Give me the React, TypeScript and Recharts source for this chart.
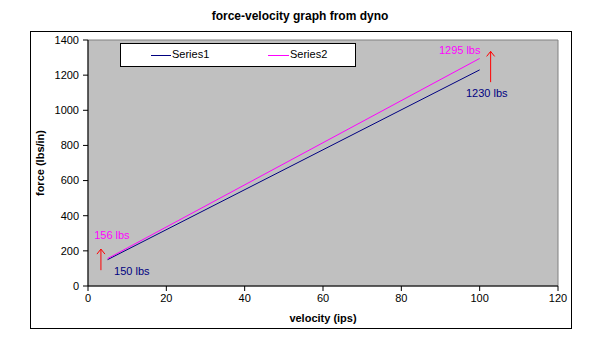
import { LineChart, Line, XAxis, YAxis, ReferenceArea, ReferenceLine, ReferenceDot } from "recharts"

// data
const velocity = [5, 100]
const series1 = [150, 1230]
const series2 = [156, 1295]
const xTicks = [0, 20, 40, 60, 80, 100, 120]
const yTicks = [0, 200, 400, 600, 800, 1000, 1200, 1400]

const notes = [
  { x: 6.1, y: 290, text: "156 lbs", color: "#FF00FF" },
  { x: 11.2, y: 85, text: "150 lbs", color: "#000080" },
  { x: 94.9, y: 1345, text: "1295 lbs", color: "#FF00FF" },
  { x: 101.8, y: 1100, text: "1230 lbs", color: "#000080" },
]
const arrows = [
  { x: 3.3, from: 90, to: 210 },
  { x: 102.8, from: 1160, to: 1335 },
]

const data = velocity.map((v, i) => ({ v, s1: series1[i], s2: series2[i] }))

const font = "'Liberation Sans', Arial, sans-serif"

function ArrowShape(props: any) {
  const { x1, y1, x2, y2 } = props
  const top = Math.min(y1, y2)
  const bottom = Math.max(y1, y2)
  return (
    <g stroke="#FF0000" strokeWidth={1} fill="none">
      <line x1={x1} y1={bottom} x2={x2} y2={top} />
      <polyline points={`${x1 - 4},${top + 5} ${x1},${top} ${x1 + 4},${top + 5}`} />
    </g>
  )
}

function LegendBox() {
  return (
    <div
      style={{
        position: "absolute",
        left: 120,
        top: 43,
        width: 234,
        height: 22,
        border: "1px solid #000",
        background: "#fff",
        fontFamily: font,
        fontSize: 11,
      }}
    >
      <div style={{ position: "absolute", left: 30, top: 11, width: 20, height: 1, background: "#000080" }} />
      <span style={{ position: "absolute", left: 51, top: 4 }}>Series1</span>
      <div style={{ position: "absolute", left: 147, top: 11, width: 21, height: 1, background: "#FF00FF" }} />
      <span style={{ position: "absolute", left: 169, top: 4 }}>Series2</span>
    </div>
  )
}

export default function App() {
  return (
    <div style={{ position: "absolute", left: 0, top: 0, width: 600, height: 357, background: "#fff", fontFamily: font }}>
      <div
        style={{
          position: "absolute",
          left: 0,
          top: 9,
          width: 600,
          textAlign: "center",
          fontWeight: "bold",
          fontSize: 12,
        }}
      >
        force-velocity graph from dyno
      </div>
      <div style={{ position: "absolute", left: 30, top: 31, width: 540, height: 296, border: "1px solid #000" }} />
      <LineChart
        width={600}
        height={357}
        data={data}
        margin={{ top: 40, right: 42, left: 40, bottom: 33 }}
        style={{ position: "absolute", left: 0, top: 0 }}
      >
        <ReferenceArea x1={0} x2={120} y1={0} y2={1400} fill="#C0C0C0" fillOpacity={1} stroke="#808080" strokeWidth={1} />
        <XAxis
          type="number"
          dataKey="v"
          domain={[0, 120]}
          ticks={xTicks}
          height={38}
          stroke="#000"
          tickSize={5}
          tickMargin={3}
          tick={{ fill: "#000", fontSize: 11, fontFamily: font }}
          label={{ value: "velocity (ips)", position: "insideBottom", offset: 2, fill: "#000", fontSize: 11, fontWeight: "bold", fontFamily: font }}
        />
        <YAxis
          type="number"
          domain={[0, 1400]}
          ticks={yTicks}
          width={48}
          stroke="#000"
          tickSize={5}
          tickMargin={4}
          tick={{ fill: "#000", fontSize: 11, fontFamily: font }}
          label={{
            content: (p: any) => {
              const vb = p.viewBox
              const cx = vb.x
              const cy = vb.y + vb.height / 2
              return (
                <text
                  x={cx}
                  y={cy}
                  transform={`rotate(-90 ${cx} ${cy})`}
                  textAnchor="middle"
                  dominantBaseline="central"
                  fontSize={11}
                  fontWeight="bold"
                  fontFamily={font}
                  fill="#000"
                >
                  force (lbs/in)
                </text>
              )
            },
          }}
        />
        <Line type="linear" dataKey="s1" name="Series1" stroke="#000080" strokeWidth={1} dot={false} isAnimationActive={false} />
        <Line type="linear" dataKey="s2" name="Series2" stroke="#FF00FF" strokeWidth={1} dot={false} isAnimationActive={false} />
        {arrows.map((a, i) => (
          <ReferenceLine
            key={"a" + i}
            segment={[
              { x: a.x, y: a.from },
              { x: a.x, y: a.to },
            ]}
            shape={ArrowShape}
          />
        ))}
        {notes.map((n, i) => (
          <ReferenceDot
            key={"n" + i}
            x={n.x}
            y={n.y}
            r={0}
            shape={(p: any) => (
              <text x={p.cx} y={p.cy} textAnchor="middle" dominantBaseline="central" fill={n.color} fontSize={11} fontFamily={font}>
                {n.text}
              </text>
            )}
          />
        ))}
      </LineChart>
      <LegendBox />
    </div>
  )
}
